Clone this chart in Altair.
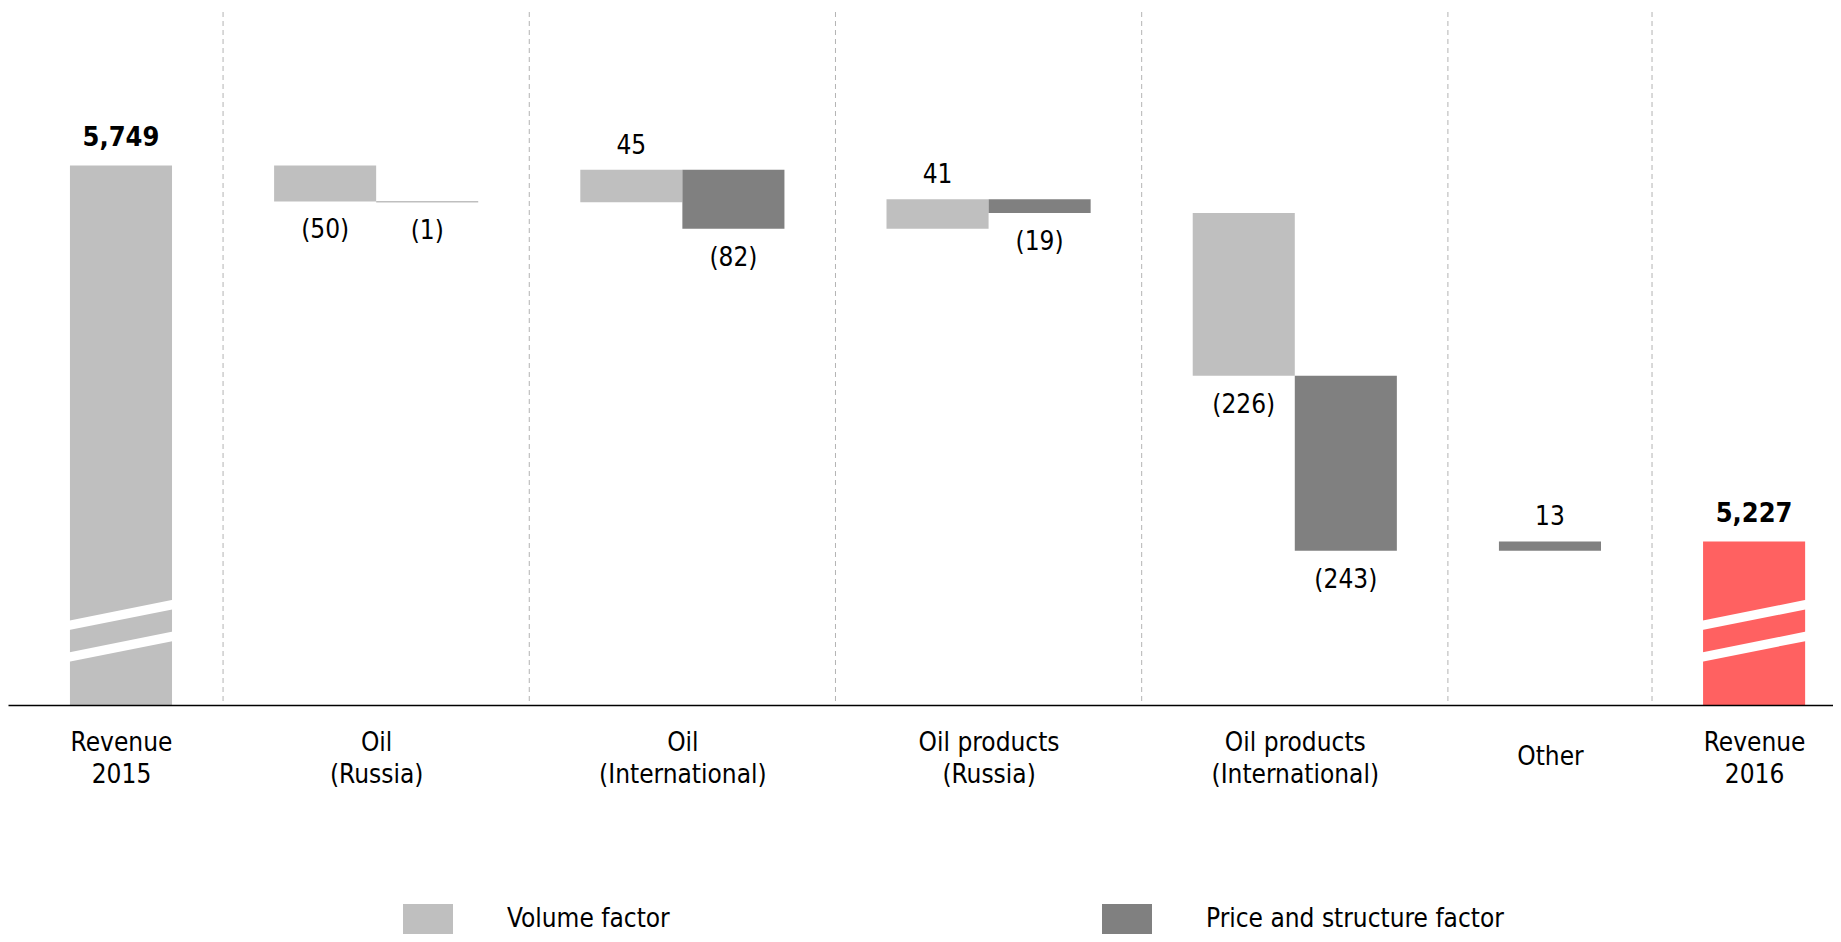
import json
import altair as alt
import pandas as pd

# ---------------- data ----------------
start_label = "Revenue\n2015"
end_label = "Revenue\n2016"
revenue_2015 = 5749
revenue_2016 = 5227
change_categories = [
    "Oil\n(Russia)",
    "Oil\n(International)",
    "Oil products\n(Russia)",
    "Oil products\n(International)",
    "Other",
]
volume_factor = [-50, 45, 41, -226, None]
price_structure_factor = [-1, -82, -19, -243, 13]

series_names = ["Volume factor", "Price and structure factor", "Revenue 2015", "Revenue 2016"]
series_colors = ["#bfbfbf", "#808080", "#bfbfbf", "#ff6161"]
legend_names = ["Volume factor", "Price and structure factor"]

# broken value axis: bars for totals start at this floor
FLOOR = 5000
TOP = 5962
BREAK_LEVELS = [110, 66]   # white break stripes (value above floor, left edge)
BREAK_RISE = 30

FONT = "DejaVu Sans Condensed, DejaVu Sans, sans-serif"

# ---------------- layout tables built from the data ----------------
bars, centers, bounds = [], [], []
slot = 0.0


def add_total(label, value, series):
    global slot
    bars.append(dict(x0=slot + 0.5, x1=slot + 1.5, y0=FLOOR, y1=value, series=series,
                     kind="total", text=f"{value:,}", anchor=value))
    centers.append((slot + 1.0, label))
    slot += 2


add_total(start_label, revenue_2015, "Revenue 2015")
bounds.append(slot)
running = revenue_2015
for cat, v, p in zip(change_categories, volume_factor, price_structure_factor):
    n = 0
    start = slot
    for val, ser in ((v, "Volume factor"), (p, "Price and structure factor")):
        if val is None:
            continue
        x0 = start + 0.5 + n
        new = running + val
        bars.append(dict(x0=x0, x1=x0 + 1, y0=running, y1=new, series=ser,
                         kind="pos" if val > 0 else "neg",
                         text=str(val) if val > 0 else f"({-val})",
                         anchor=max(running, new) if val > 0 else min(running, new)))
        running = new
        n += 1
    centers.append((start + (n + 1) / 2, cat))
    slot += n + 1
    bounds.append(slot)
add_total(end_label, revenue_2016, "Revenue 2016")

df = pd.DataFrame(bars)
df["xc"] = (df["x0"] + df["x1"]) / 2

stripes = []
sid = 0
for b in bars:
    if b["kind"] != "total":
        continue
    for lvl in BREAK_LEVELS:
        stripes.append(dict(sid=sid, sx=b["x0"] - 0.03, sy=FLOOR + lvl))
        stripes.append(dict(sid=sid, sx=b["x1"] + 0.03, sy=FLOOR + lvl + BREAK_RISE))
        sid += 1
sdf = pd.DataFrame(stripes)
bdf = pd.DataFrame({"b": bounds})

# ---------------- scales / axis ----------------
xs = alt.Scale(domain=[-0.107, 17.773], nice=False, zero=False)
ys = alt.Scale(domain=[FLOOR, TOP], nice=False, zero=False)

parts = [f"abs(datum.value - {c}) < 0.01 ? {json.dumps(lab.split(chr(10)))}" for c, lab in centers]
label_expr = " : ".join(parts) + " : ''"

single_line = [c for c, lab in centers if "\n" not in lab]
single_test = " || ".join(f"abs(datum.value - {c}) < 0.01" for c in single_line) or "false"

x_axis = alt.Axis(values=[c for c, _ in centers], labelExpr=label_expr, title=None,
                  domainColor="#000000", domainWidth=1.6, ticks=False, tickSize=0,
                  grid=False,
                  labelPadding={"condition": {"test": single_test, "value": 51}, "value": 37},
                  labelBaseline="middle", labelAlign="center",
                  labelFontSize=26, labelFont=FONT, labelColor="#000000", labelLineHeight=32,
                  labelOverlap=False, labelFlush=False, zindex=1)

rules = alt.Chart(bdf).mark_rule(color="#b3b3b3", strokeWidth=1, strokeDash=[5, 4]).encode(
    x=alt.X("b:Q", scale=xs, axis=x_axis)
)

rects = alt.Chart(df).mark_rect().encode(
    x=alt.X("x0:Q", scale=xs, axis=x_axis),
    x2="x1",
    y=alt.Y("y0:Q", scale=ys, axis=None),
    y2="y1",
    color=alt.Color(
        "series:N",
        scale=alt.Scale(domain=series_names, range=series_colors),
        legend=alt.Legend(
            title=None, orient="none", legendX=395, legendY=882,
            direction="horizontal", columns=2, columnPadding=432,
            values=legend_names, symbolType="M-1,-0.6H1V0.6H-1Z", symbolSize=2500,
            symbolStrokeWidth=0, symbolOpacity=1, labelFontSize=26, labelFont=FONT,
            labelColor="#000000", labelOffset=54, padding=0, labelLimit=0,
        ),
    ),
)

breaks = alt.Chart(sdf).mark_line(color="white", strokeWidth=9.3, strokeCap="butt").encode(
    x=alt.X("sx:Q", scale=xs),
    y=alt.Y("sy:Q", scale=ys),
    detail="sid:N",
    order="sx:Q",
)


def labels(kind, dy, bold=False, size=26):
    return alt.Chart(df).transform_filter(alt.datum.kind == kind).mark_text(
        baseline="middle", align="center", dy=dy, fontSize=size, font=FONT,
        fontWeight="bold" if bold else "normal", color="#000000",
    ).encode(
        x=alt.X("xc:Q", scale=xs),
        y=alt.Y("anchor:Q", scale=ys),
        text="text:N",
    )


chart = alt.layer(
    rules, rects, breaks,
    labels("total", -27, bold=True, size=27),
    labels("pos", -24),
    labels("neg", 29),
).properties(
    width=1825, height=693,
    autosize=alt.AutoSizeParams(type="none"),
    padding={"left": 0, "top": 4, "right": 0, "bottom": 229},
    background="white",
).configure_view(stroke=None)

chart.save("out.html", embed_options={"renderer": "svg", "actions": False})
